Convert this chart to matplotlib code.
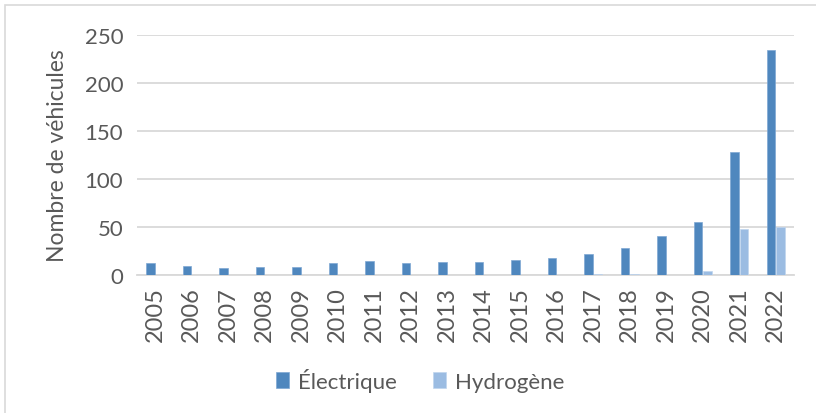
import numpy as np
import matplotlib.pyplot as plt
from matplotlib.patches import Rectangle

plt.rcParams['font.family'] = ['Lato', 'DejaVu Sans']

annees = ['2005', '2006', '2007', '2008', '2009', '2010', '2011', '2012', '2013',
          '2014', '2015', '2016', '2017', '2018', '2019', '2020', '2021', '2022']
electrique = [13, 9, 7, 8, 8, 13, 15, 13, 14, 14, 16, 18, 22, 28, 41, 55, 128, 234]
hydrogene = [0, 0, 0, 0, 0, 0, 0, 0, 0, 0, 0, 0, 1, 1, 0, 4, 48, 50]

gris_texte = '#595959'
gris_grille = '#D9D9D9'

fig = plt.figure(figsize=(8.16, 4.14), dpi=100)
ax = fig.add_axes([0.168, 0.333, 0.805, 0.580])

x = np.arange(len(annees))
w = 0.23
ax.bar(x - 0.13, electrique, w, color='#4F87BE', edgecolor='#7FA8D3', linewidth=0.5,
       label='Électrique', zorder=3)
ax.bar(x + 0.13, hydrogene, w, color='#9BBCE2', edgecolor='#C0D5EE', linewidth=0.5,
       label='Hydrogène', zorder=3)

ax.set_xlim(-0.5, len(annees) - 0.5)
ax.set_ylim(0, 250)
ax.set_yticks(range(0, 251, 50))
ax.set_xticks(x)
ax.set_xticklabels(annees, rotation=90, fontsize=17)
ax.grid(axis='y', color=gris_grille, linewidth=1.3, zorder=0)
for s in ['top', 'right', 'left']:
    ax.spines[s].set_visible(False)
ax.spines['bottom'].set_color(gris_grille)
ax.spines['bottom'].set_linewidth(1.3)
ax.tick_params(axis='both', length=0, colors=gris_texte)
ax.tick_params(axis='y', pad=10, labelsize=16)
ax.tick_params(axis='x', pad=8)
ax.set_ylabel('Nombre de véhicules', fontsize=16.5, color=gris_texte, labelpad=12)

leg = fig.legend(loc='center', bbox_to_anchor=(0.515, 0.08), ncol=2, frameon=False,
                 fontsize=16, handlelength=0.6, handleheight=0.7,
                 columnspacing=1.6, handletextpad=0.4)
for t in leg.get_texts():
    t.set_color(gris_texte)

fig.patches.append(Rectangle((5 / 816, -0.01), 1.0, 1 - 6 / 414 + 0.01,
                             transform=fig.transFigure, fill=False,
                             edgecolor='#D9D9D9', linewidth=1.2))

fig.savefig('out.png', dpi=100)
